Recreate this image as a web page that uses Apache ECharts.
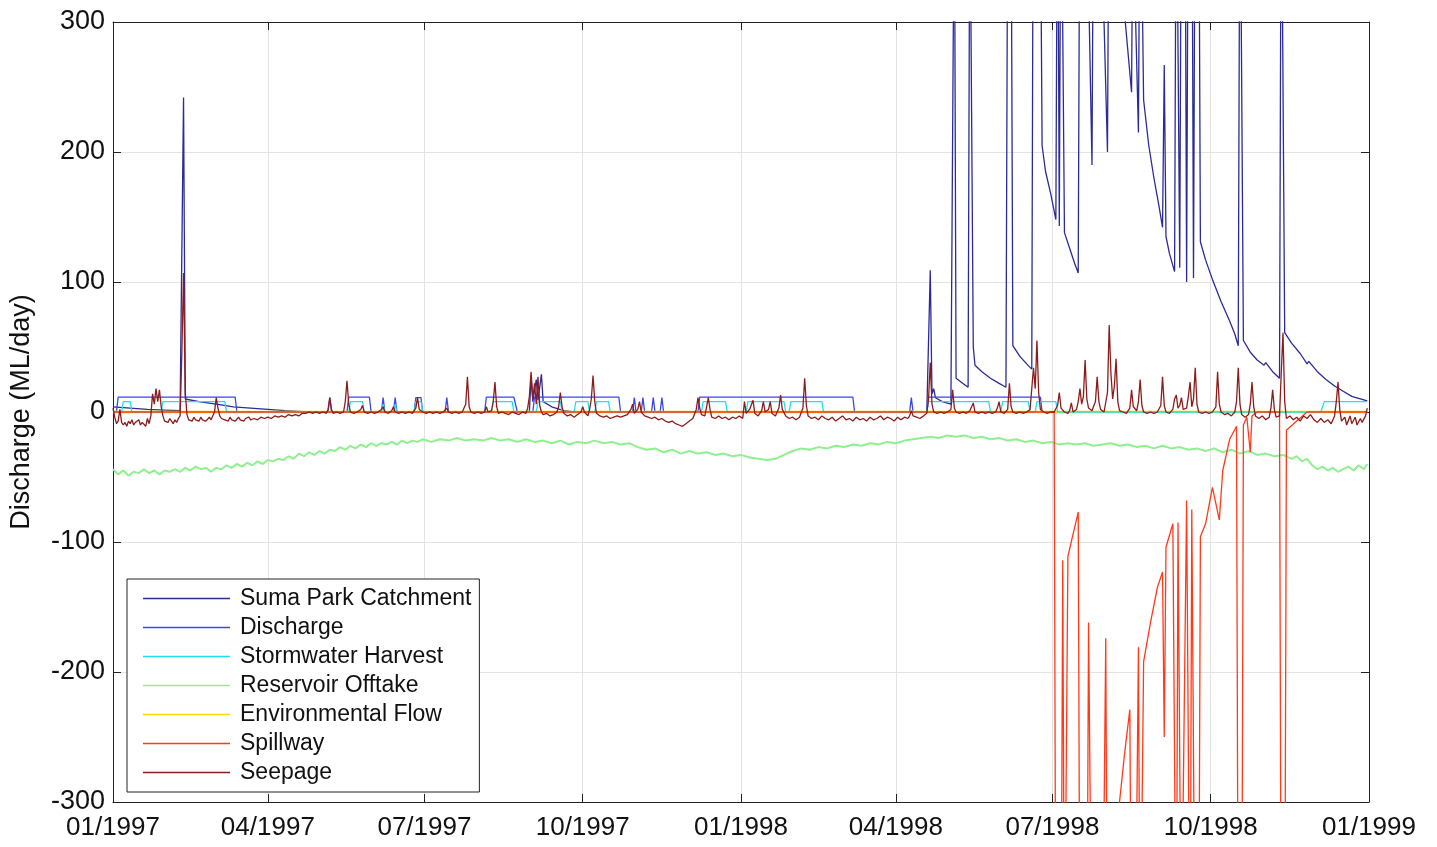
<!DOCTYPE html>
<html><head><meta charset="utf-8">
<script src="https://cdn.jsdelivr.net/npm/echarts@6/dist/echarts.min.js"></script>
<style>html,body{margin:0;padding:0;background:#fff}#c{width:1437px;height:847px}</style>
</head><body><div id="c"></div>
<script>
// x values are days since 01/01/1997
const tickDays = [0, 90, 181, 273, 365, 455, 546, 638, 730];
const tickLabels = ['01/1997','04/1997','07/1997','10/1997','01/1998','04/1998','07/1998','10/1998','01/1999'];
const seriesNames = ['Suma Park Catchment','Discharge','Stormwater Harvest','Reservoir Offtake','Environmental Flow','Spillway','Seepage'];

const catchment = [[0,4],[10,3],[20,2],[30,1.5],[39,1],[41,242],[42,10],[50,8],[60,6],[70,4],[80,3],[90,2],[100,1],[113,0],[242,0],[243,27],[244,8],[246,25],[247,9],[249,29],[250,8],[255,4],[262,1],[268,0],[473,0],[475,109],[476,14],[477,18],[478,11],[482,8],[487,6],[488,6],[489,420],[490,26],[494,22],[497,19],[498,420],[500,50],[501,36],[505,31],[510,26],[515,22],[519,19],[520,400],[521,500],[522,400],[523,51],[527,43],[531,37],[534,33],[535,500],[539,400],[540,205],[542,185],[545,168],[548,148],[549,450],[550,143],[551,450],[552,450],[553,138],[556,126],[559,114],[561,107],[562,450],[566,400],[569,190],[570,450],[575,350],[578,200],[579,450],[586,450],[587,320],[592,246],[593,450],[594,320],[596,215],[597,450],[599,240],[602,205],[605,180],[608,158],[610,142],[611,267],[612,135],[614,122],[617,108],[618,450],[619,450],[620,111],[621,450],[622,450],[623,450],[624,100],[625,450],[626,450],[627,450],[628,103],[629,450],[630,450],[631,450],[632,131],[635,117],[639,102],[644,85],[649,70],[652,60],[654,51],[655,450],[656,450],[657,55],[661,46],[665,40],[669,36],[670,38],[674,31],[678,26],[679,450],[680,450],[681,61],[685,53],[690,45],[694,37],[695,39],[700,31],[705,25],[710,20],[715,16],[720,12],[729,8.5]];

const discharge = [[0,0],[2,0],[3,11.5],[71,11.5],[72,0],[125,0],[126,11],[127,0],[136,0],[137,11.5],[149,11.5],[150,0],[156,0],[157,11],[158,0],[163,0],[164,11],[165,0],[175,0],[176,11],[179,11],[180,0],[193,0],[194,11],[195,0],[216,0],[217,11.5],[233,11.5],[235,0],[244,0],[245,11.5],[294,11.5],[295,0],[302,0],[303,11],[304,0],[307,0],[308,11],[309,0],[313,0],[314,11],[315,0],[318,0],[319,11],[320,0],[340,0],[341,11.5],[430,11.5],[431,0],[463,0],[464,11],[465,0],[473,0],[474,11.5],[539,11.5],[540,0],[729,0]];

const harvest = [[0,0],[5,0],[6,8],[10,8],[11,0],[28,0],[29,8],[65,8],[66,0],[137,0],[138,8],[145,8],[146,0],[156,0],[157,6],[158,0],[163,0],[164,6],[165,0],[175,0],[176,8],[179,8],[180,0],[220,0],[221,8],[232,8],[233,0],[246,0],[247,8],[260,8],[261,0],[268,0],[269,8],[276,8],[277,0],[280,0],[281,8],[288,8],[289,0],[342,0],[343,8],[356,8],[357,0],[368,0],[369,8],[390,8],[391,0],[393,0],[394,8],[412,8],[413,0],[473,0],[474,8],[509,8],[510,0],[516,0],[517,8],[532,8],[533,0],[536,0],[537,8],[548,8],[549,0],[702,0],[704,8],[729,8]];

const offtake = [[0,-44],[3,-48],[6,-45],[9,-49],[12,-46],[15,-47],[18,-44],[21,-47],[24,-45],[27,-48],[30,-45],[33,-46],[36,-44],[39,-46],[42,-43],[45,-45],[48,-42],[51,-44],[54,-43],[57,-46],[60,-43],[63,-44],[66,-41],[69,-43],[72,-40],[75,-42],[78,-39],[81,-41],[84,-38],[87,-40],[90,-37],[93,-38],[96,-36],[99,-37],[102,-34],[105,-36],[108,-32],[111,-34],[114,-31],[117,-33],[120,-30],[123,-32],[126,-29],[129,-30],[132,-27],[135,-29],[138,-26],[141,-28],[144,-25],[147,-27],[150,-24],[153,-26],[156,-24],[159,-25],[162,-23],[165,-25],[168,-22],[171,-24],[174,-22],[177,-23],[180,-21],[185,-23],[190,-21],[195,-22],[200,-20],[205,-22],[210,-21],[215,-22],[220,-20],[225,-22],[230,-21],[235,-23],[240,-21],[245,-23],[250,-22],[255,-24],[260,-22],[265,-25],[270,-23],[275,-24],[280,-22],[285,-24],[290,-23],[295,-25],[300,-24],[305,-27],[310,-29],[315,-28],[320,-31],[325,-29],[330,-32],[335,-30],[340,-32],[345,-31],[350,-33],[355,-32],[360,-34],[365,-33],[370,-35],[375,-36],[380,-37],[385,-36],[390,-33],[395,-30],[400,-28],[405,-29],[410,-27],[415,-28],[420,-26],[425,-27],[430,-25],[435,-26],[440,-24],[445,-25],[450,-23],[455,-24],[460,-22],[465,-21],[470,-20],[475,-19],[480,-20],[485,-18],[490,-19],[495,-18],[500,-20],[505,-19],[510,-21],[515,-20],[520,-22],[525,-21],[530,-23],[535,-22],[540,-24],[545,-23],[550,-25],[555,-24],[560,-25],[565,-24],[570,-26],[575,-25],[580,-24],[585,-26],[590,-25],[595,-27],[600,-26],[605,-28],[610,-26],[615,-28],[620,-27],[625,-29],[630,-28],[635,-30],[640,-28],[645,-31],[650,-29],[655,-32],[660,-30],[665,-33],[670,-32],[675,-34],[680,-33],[685,-36],[688,-34],[691,-38],[694,-36],[697,-41],[700,-44],[703,-42],[706,-45],[709,-43],[712,-46],[715,-44],[718,-42],[721,-45],[724,-41],[727,-44],[729,-40]];

const envFlow = [[0,0],[729,0]];

const spillway = [[0,0],[547,0],[548,-450],[551,-450],[552,-114],[553,-450],[554,-450],[555,-111],[558,-94],[561,-77],[562,-450],[566,-450],[567,-162],[569,-450],[575,-450],[577,-174],[578,-450],[585,-300],[588,-262],[591,-229],[592,-450],[594,-450],[596,-181],[597,-450],[598,-450],[599,-192],[603,-162],[607,-135],[610,-123],[611,-250],[612,-104],[616,-86],[618,-450],[619,-85],[621,-450],[622,-300],[624,-68],[626,-450],[627,-75],[629,-450],[631,-450],[632,-96],[635,-86],[639,-58],[643,-83],[645,-45],[649,-21],[653,-11],[654,-450],[656,-450],[657,-10],[659,-4],[661,-31],[662,-3],[665,0],[678,0],[679,-450],[681,-450],[682,-14],[687,-8],[694,0],[729,0]];

const seepage = [[0,3],[1,-4],[2,-9],[3,-7],[4,2],[5,-8],[6,-10],[7,-8],[8,-11],[9,-7],[10,-9],[11,-6],[12,-10],[13,-8],[14,-9],[15,-6],[16,-10],[17,-8],[18,-7],[19,-11],[20,-5],[21,-9],[22,-3],[23,14],[24,6],[25,18],[26,8],[27,17],[28,4],[29,-3],[30,-7],[31,-6],[32,-8],[33,-5],[34,-7],[35,-9],[36,-6],[37,-8],[38,-5],[39,-3],[40,45],[41,107],[42,15],[43,-2],[44,-6],[45,-5],[46,-7],[47,-4],[48,-6],[49,-5],[50,-7],[51,-4],[52,-6],[53,-5],[54,-7],[55,-6],[56,-4],[57,-6],[58,-7],[59,0],[60,11],[61,3],[62,-3],[63,-5],[64,-4],[65,-6],[66,-5],[67,-7],[68,-4],[69,-6],[70,-5],[71,-7],[72,-6],[73,-4],[74,-6],[75,-5],[76,-7],[77,-5],[78,-6],[79,-4],[80,-6],[82,-5],[84,-6],[86,-4],[88,-5],[90,-4],[92,-5],[94,-3],[96,-4],[98,-3],[100,-4],[102,-2],[104,-3],[106,-2],[108,-3],[110,-1],[112,-1],
[114,0],[116,-1],[118,0],[120,-1],[122,0],[124,-1],[125,2],[126,11],[127,2],[128,-1],[130,0],[132,-1],[134,0],[135,8],[136,24],[137,6],[138,0],[140,-1],[142,0],[144,2],[145,5],[146,0],[148,-1],[150,0],[152,-1],[154,0],[156,2],[157,4],[158,0],[160,-1],[162,1],[163,4],[164,0],[166,-1],[168,0],[170,-1],[172,0],[174,-1],[176,3],[177,11],[178,2],[180,0],
[182,-1],[184,0],[186,-1],[188,0],[190,-1],[192,0],[194,3],[195,0],[197,-1],[199,0],[201,-1],[203,0],[205,6],[206,27],[207,4],[208,0],[210,-1],[212,0],[214,-1],[216,0],[217,4],[218,0],[220,1],[221,8],[222,23],[223,4],[224,-1],[226,0],[228,-1],[230,-2],[232,0],[234,-1],[236,-2],[238,0],[240,-1],[241,3],[242,12],[243,31],[244,10],[245,22],[246,6],[247,27],[248,5],[249,0],[250,-2],[252,-1],[254,-3],[256,-2],[258,0],[259,4],[260,15],[261,4],[262,-1],[264,-3],[266,-2],[268,-4],[270,-2],[272,0],[273,4],[274,0],[276,-3],[277,2],[278,10],[279,28],[280,8],[281,-1],[283,-3],[285,-4],[287,-3],[289,-5],[291,-4],[293,-3],[295,-4],[297,-3],[299,-2],[301,2],[302,6],[303,-1],[305,2],[306,8],[307,0],[309,-3],
[311,-4],[313,-5],[315,-4],[317,-6],[319,-5],[321,-7],[323,-8],[325,-7],[327,-9],[329,-10],[331,-11],[333,-9],[335,-7],[337,-5],[339,2],[340,11],[341,3],[342,-2],[344,-3],[345,4],[346,11],[347,2],[348,-4],[350,-5],[352,-3],[354,-5],[356,-4],[358,-6],[360,-4],[362,-5],[364,-3],[366,-5],[367,8],[368,-1],[370,2],[372,9],[373,-1],[375,-3],[377,1],[378,8],[379,0],[381,2],[382,8],[383,-1],[385,-3],[387,3],[388,13],[389,2],[391,-3],[393,-5],[395,-4],[397,-6],[399,-4],[401,3],[402,26],[403,5],[404,-3],[406,-5],[408,-4],[410,-6],[412,-3],[414,-5],[416,-6],[418,-4],[420,-7],[422,-5],[424,-3],[426,-6],[428,-5],[430,-7],[432,-4],[434,-6],[436,-5],[438,-7],[440,-4],[442,-6],[444,-5],[446,-3],[448,-6],[450,-4],[452,-5],[454,-7],[456,-4],[458,-6],[460,-4],[462,-5],[463,-3],[464,1],[465,-3],[467,-4],[469,-5],[471,-3],[473,-1],
[474,10],[475,38],[476,6],[477,0],[479,-1],[481,0],[483,-1],[485,0],[487,2],[488,17],[489,3],[490,0],[492,-1],[494,0],[496,-1],[498,1],[500,7],[501,0],[503,-1],[505,0],[507,-1],[509,0],[511,-1],[513,0],[514,3],[515,8],[516,0],[518,-1],[520,2],[521,22],[522,4],[523,0],[525,-1],[527,0],[529,-1],[531,0],[533,2],[535,34],[536,18],[537,55],[538,15],[539,2],[541,0],[543,-1],[545,0],[547,0],[549,5],[550,15],[551,3],[553,0],[555,-1],[556,1],[557,7],[558,0],[560,2],[561,8],[562,18],[563,6],[564,12],[565,40],[566,10],[567,3],[569,1],[571,8],[572,27],[573,8],[574,2],[576,0],[578,15],[579,67],[580,30],[581,10],[582,20],[583,41],[584,8],[585,1],[587,0],[589,-1],[591,3],[592,17],[593,4],[595,1],[596,8],[597,25],[598,5],[599,0],[601,-1],[603,0],[605,-1],[607,0],[609,5],[610,27],[611,5],[612,0],[614,-1],[616,2],[617,10],[618,13],[619,3],[620,5],[621,11],[622,2],[624,3],[625,12],[626,23],[627,4],[628,10],[629,34],[630,6],[631,0],[633,-1],[635,0],[637,-1],[639,0],[641,4],[642,31],[643,6],[644,0],[646,-2],[648,-1],[650,-3],[652,0],[653,8],[654,34],[655,6],[656,-2],[658,-4],[660,-2],[661,6],[662,23],[663,4],[664,-3],[666,-5],[668,-3],[670,-6],[672,-4],[673,3],[674,17],[675,2],[676,-4],[678,-3],[679,30],[680,61],[681,8],[682,-5],[684,-3],[686,-6],[688,-4],[690,-7],[692,-3],[694,-5],[696,-2],[698,-6],[700,-8],[702,-5],[704,-8],[706,-6],[708,-9],[710,-3],[711,8],[712,23],[713,2],[714,-7],[716,-4],[717,-10],[719,-3],[720,-9],[722,-4],[723,-10],[725,-5],[726,-8],[728,-3],[729,3]];

const colors = ['#2b2b98','#3a46f2','#1fe0f0','#8ef08e','#ffd800','#ff3a1a','#8c1c1c'];
const widths = [1.3,1.3,1.3,2,2.4,1.3,1.3];
const dataSets = [catchment, discharge, harvest, offtake, envFlow, spillway, seepage];
// draw order: cyan drawn after env flow so it stays visible along zero
const drawOrder = [0,1,3,4,2,5,6];

const FONT = 'Liberation Sans, Arial, sans-serif';
const chart = echarts.init(document.getElementById('c'), null, {renderer:'canvas'});
const gridLine = {show:true, lineStyle:{color:'#e3e3e3', width:1}};
const tickStyle = {show:true, inside:true, length:8, lineStyle:{color:'#222', width:1}};
chart.setOption({
  animation:false,
  backgroundColor:'#fff',
  grid:{left:113, right:68, top:22, bottom:45, show:false},
  legend:{
    data:seriesNames, orient:'vertical', left:127, top:579,
    backgroundColor:'#fff', borderColor:'#222', borderWidth:1,
    padding:[8,8,8,16], icon:'rect', itemWidth:87, itemHeight:1.6, itemGap:6,
    textStyle:{fontFamily:FONT, fontSize:23, color:'#111', lineHeight:21, padding:[0,0,0,5]},
    inactiveColor:'#ccc'
  },
  xAxis:[{
    type:'value', min:0, max:730, position:'bottom',
    axisLine:{show:true, onZero:false, lineStyle:{color:'#222', width:1}},
    axisTick:Object.assign({customValues:tickDays}, tickStyle),
    axisLabel:{customValues:tickDays, fontFamily:FONT, fontSize:26, color:'#111', margin:13,
      formatter:function(v){ const i = tickDays.indexOf(Math.round(v)); return i>=0 ? tickLabels[i] : ''; }},
    splitLine:gridLine
  },{
    type:'value', min:0, max:730, position:'top',
    axisLine:{show:true, onZero:false, lineStyle:{color:'#222', width:1}},
    axisTick:Object.assign({customValues:tickDays}, tickStyle),
    axisLabel:{show:false}, splitLine:{show:false}
  }],
  yAxis:[{
    type:'value', min:-300, max:300, interval:100, position:'left',
    name:'Discharge (ML/day)', nameLocation:'middle', nameGap:78,
    nameTextStyle:{fontFamily:FONT, fontSize:27, color:'#111'},
    axisLine:{show:true, onZero:false, lineStyle:{color:'#222', width:1}},
    axisTick:tickStyle,
    axisLabel:{fontFamily:FONT, fontSize:27, color:'#111', margin:8},
    splitLine:gridLine
  },{
    type:'value', min:-300, max:300, interval:100, position:'right',
    axisLine:{show:true, onZero:false, lineStyle:{color:'#222', width:1}},
    axisTick:tickStyle, axisLabel:{show:false}, splitLine:{show:false}
  }],
  series: seriesNames.map((n,i)=>({
    name:n, type:'line', data:dataSets[i], showSymbol:false, symbol:'none',
    clip:true, xAxisIndex:0, yAxisIndex:0, z: 2 + drawOrder.indexOf(i) * 0.01,
    zlevel:0,
    lineStyle:{color:colors[i], width:widths[i]}, itemStyle:{color:colors[i]},
    emphasis:{disabled:true}
  }))
});
</script></body></html>
